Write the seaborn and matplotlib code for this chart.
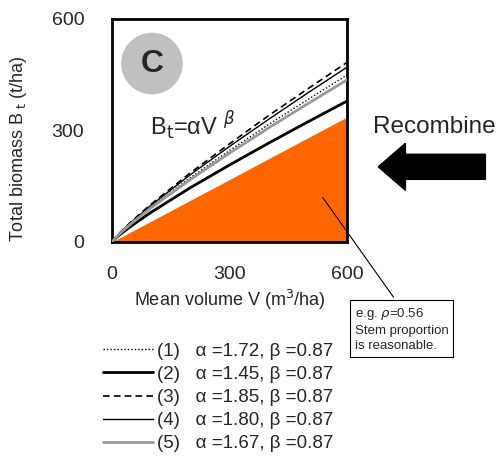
import numpy as np
import pandas as pd
import seaborn as sns
from matplotlib import pyplot as plt
from matplotlib import lines, patches

# mean volume V (m3/ha) and total biomass Bt (t/ha)
volume = [0, 10, 25, 50, 100, 200, 300, 400, 500, 600]
bt_1 = [0, 12.7, 28.3, 51.7, 95, 173, 246, 316, 383, 449]
bt_2 = [0, 10.7, 23.9, 43.6, 80, 146, 207, 266, 323, 379]
bt_3 = [0, 13.7, 30.4, 55.6, 102, 186, 264, 340, 412, 483]
bt_4 = [0, 13.3, 29.6, 54.1, 99, 181, 257, 330, 401, 470]
bt_5 = [0, 12.4, 27.5, 50.2, 92, 168, 239, 307, 372, 436]
series_names = ["(1)", "(2)", "(3)", "(4)", "(5)"]
series_labels = [
    "(1)   α =1.72, β =0.87",
    "(2)   α =1.45, β =0.87",
    "(3)   α =1.85, β =0.87",
    "(4)   α =1.80, β =0.87",
    "(5)   α =1.67, β =0.87",
]
# stem proportion (orange area): rho = 0.56
stem_v = [0, 600]
stem_bt = [0, 336]

df = pd.DataFrame({
    "V": volume * 5,
    "Bt": bt_1 + bt_2 + bt_3 + bt_4 + bt_5,
    "series": [s for s in series_names for _ in volume],
})

sns.set_style("white")
plt.rcParams["font.family"] = ["Liberation Sans", "DejaVu Sans"]

fig = plt.figure(figsize=(5.03, 4.57), dpi=100)
ax = fig.add_axes([0.2227, 0.4705, 0.467, 0.488])

ax.fill_between(stem_v, 0, stem_bt, color="#FF6600", lw=0, zorder=1)

styles = {
    "(1)": dict(color="black", ls=(0, (1, 1.5)), lw=1.0),
    "(2)": dict(color="black", ls="-", lw=2.0),
    "(3)": dict(color="black", ls=(0, (4, 2.5)), lw=1.2),
    "(4)": dict(color="black", ls="-", lw=1.0),
    "(5)": dict(color="#999999", ls="-", lw=2.0),
}
for name in series_names:
    sub = df[df["series"] == name]
    sns.lineplot(data=sub, x="V", y="Bt", ax=ax, **styles[name], zorder=3)

ax.set_xlim(0, 600)
ax.set_ylim(0, 600)
ax.set_xticks([0, 300, 600])
ax.set_yticks([0, 300, 600])
ax.tick_params(direction="in", length=5, width=1.5, labelsize=14)
ax.tick_params(axis="x", pad=17)
ax.tick_params(axis="y", pad=20)
for sp in ax.spines.values():
    sp.set_linewidth(2)
    sp.set_color("black")
ax.set_xlabel("Mean volume V (m$^3$/ha)", fontsize=13, labelpad=4)
ax.set_ylabel("Total biomass B$_{\\ \\mathrm{t}}$ (t/ha)", fontsize=13)
ax.yaxis.set_label_coords(-0.355, 0.42)

# panel letter
circ = patches.Ellipse((0.17, 0.8), 0.257, 0.27, transform=ax.transAxes,
                       color="#C0C0C0", zorder=4)
ax.add_patch(circ)
ax.text(0.17, 0.8, "C", transform=ax.transAxes, ha="center", va="center",
        fontsize=23, fontweight="bold", zorder=5)

ax.text(0.16, 0.48, "B$_\\mathrm{t}$=αV $^{β}$", transform=ax.transAxes, fontsize=17,
        ha="left", va="baseline", zorder=5)

# annotation
ax.annotate(
    "e.g. $\\rho$=0.56\nStem proportion\nis reasonable.",
    xy=(0.89, 0.21), xycoords="axes fraction",
    xytext=(0.706, 0.23), textcoords="figure fraction",
    fontsize=9.5, ha="left", va="bottom", linespacing=1.3,
    bbox=dict(boxstyle="square,pad=0.35", fc="white", ec="black", lw=0.8),
    arrowprops=dict(arrowstyle="-", color="black", lw=0.8,
                    relpos=(0.48, 1.0)),
    annotation_clip=False,
)

fig.text(0.742, 0.722, "Recombine", fontsize=17.5, ha="left", va="center")
fig.patches.append(patches.FancyArrow(
    0.965, 0.635, -0.213, 0.0, width=0.055, head_width=0.103, head_length=0.054,
    length_includes_head=True, transform=fig.transFigure, color="black", figure=fig))

handles = [lines.Line2D([0], [0], **styles[n]) for n in series_names]
fig.legend(handles, series_labels, loc="upper left", bbox_to_anchor=(0.205, 0.25),
           frameon=False, fontsize=13.5, handlelength=2.67, handletextpad=0.2,
           labelspacing=0.32, borderaxespad=0, borderpad=0)

fig.savefig("out.png", dpi=100)
